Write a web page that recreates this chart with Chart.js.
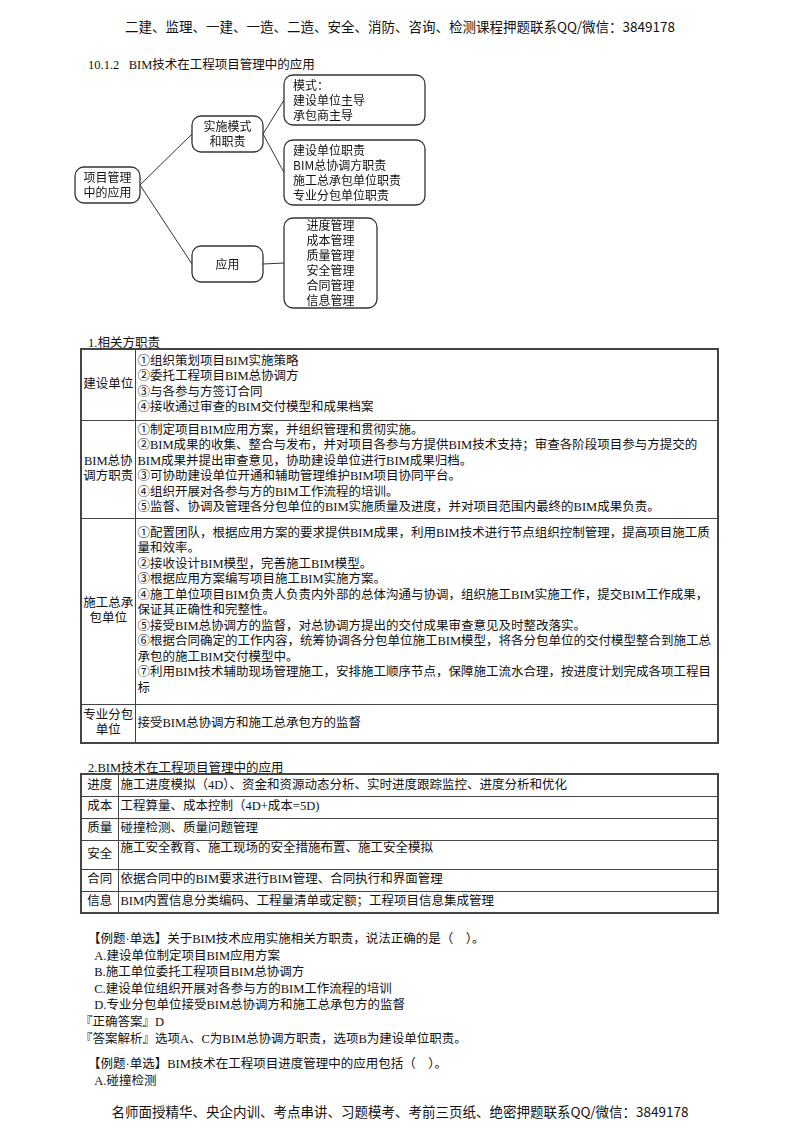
<!DOCTYPE html>
<html><head><meta charset="utf-8">
<script src="https://cdn.jsdelivr.net/npm/chart.js@4"></script>
<style>
body{margin:0;width:800px;height:1132px;background:#fff;position:relative;font-family:"Liberation Serif","Noto Sans CJK SC",serif;color:#111;font-size:12.5px}
.a{position:absolute;white-space:nowrap}
table{position:absolute;border-collapse:collapse;border:2px solid #444;table-layout:fixed}
td{border:1px solid #444;padding:0 2px;vertical-align:middle;line-height:15.5px;font-size:12.5px}
td.h{text-align:center;padding:0}
</style></head><body>
<div class="a" style="top:16px;left:0;width:800px;text-align:center;font-size:13.5px;font-family:'Noto Sans CJK SC'">二建、监理、一建、一造、二造、安全、消防、咨询、检测课程押题联系QQ/微信：3849178</div>
<div class="a" style="top:54px;left:88px;font-size:12.5px">10.1.2&nbsp;&nbsp;&nbsp;BIM技术在工程项目管理中的应用</div>
<div style="position:absolute;left:60px;top:70px;width:400px;height:250px"><canvas id="c"></canvas></div>
<div class="a" style="top:332px;left:88px">1.相关方职责</div>
<table style="left:80px;top:348px;width:639px">
<col style="width:54px"><col>
<tr style="height:71px"><td class="h">建设单位</td><td>①组织策划项目BIM实施策略<br>②委托工程项目BIM总协调方<br>③与各参与方签订合同<br>④接收通过审查的BIM交付模型和成果档案</td></tr>
<tr style="height:98px"><td class="h">BIM总协<br>调方职责</td><td>①制定项目BIM应用方案，并组织管理和贯彻实施。<br>②BIM成果的收集、整合与发布，并对项目各参与方提供BIM技术支持；审查各阶段项目参与方提交的BIM成果并提出审查意见，协助建设单位进行BIM成果归档。<br>③可协助建设单位开通和辅助管理维护BIM项目协同平台。<br>④组织开展对各参与方的BIM工作流程的培训。<br>⑤监督、协调及管理各分包单位的BIM实施质量及进度，并对项目范围内最终的BIM成果负责。</td></tr>
<tr style="height:186px"><td class="h">施工总承<br>包单位</td><td>①配置团队，根据应用方案的要求提供BIM成果，利用BIM技术进行节点组织控制管理，提高项目施工质量和效率。<br>②接收设计BIM模型，完善施工BIM模型。<br>③根据应用方案编写项目施工BIM实施方案。<br>④施工单位项目BIM负责人负责内外部的总体沟通与协调，组织施工BIM实施工作，提交BIM工作成果，保证其正确性和完整性。<br>⑤接受BIM总协调方的监督，对总协调方提出的交付成果审查意见及时整改落实。<br>⑥根据合同确定的工作内容，统筹协调各分包单位施工BIM模型，将各分包单位的交付模型整合到施工总承包的施工BIM交付模型中。<br>⑦利用BIM技术辅助现场管理施工，安排施工顺序节点，保障施工流水合理，按进度计划完成各项工程目标</td></tr>
<tr style="height:39px"><td class="h">专业分包<br>单位</td><td>接受BIM总协调方和施工总承包方的监督</td></tr>
</table>
<div class="a" style="top:757px;left:88px">2.BIM技术在工程项目管理中的应用</div>
<table style="left:80px;top:773px;width:639px">
<col style="width:37px"><col>
<tr style="height:22px"><td class="h">进度</td><td>施工进度模拟（4D）、资金和资源动态分析、实时进度跟踪监控、进度分析和优化</td></tr>
<tr style="height:22px"><td class="h">成本</td><td>工程算量、成本控制（4D+成本=5D)</td></tr>
<tr style="height:22px"><td class="h">质量</td><td>碰撞检测、质量问题管理</td></tr>
<tr style="height:29px"><td class="h">安全</td><td style="vertical-align:top">施工安全教育、施工现场的安全措施布置、施工安全模拟</td></tr>
<tr style="height:22px"><td class="h">合同</td><td>依据合同中的BIM要求进行BIM管理、合同执行和界面管理</td></tr>
<tr style="height:22px"><td class="h">信息</td><td>BIM内置信息分类编码、工程量清单或定额；工程项目信息集成管理</td></tr>
</table>
<div class="a" style="top:931px;left:88px;line-height:16.5px">【例题·单选】关于BIM技术应用实施相关方职责，说法正确的是（　）。<br>
&nbsp;&nbsp;A.建设单位制定项目BIM应用方案<br>
&nbsp;&nbsp;B.施工单位委托工程项目BIM总协调方<br>
&nbsp;&nbsp;C.建设单位组织开展对各参与方的BIM工作流程的培训<br>
&nbsp;&nbsp;D.专业分包单位接受BIM总协调方和施工总承包方的监督</div>
<div class="a" style="top:1014px;left:80px;line-height:16.5px">『正确答案』D<br>『答案解析』选项A、C为BIM总协调方职责，选项B为建设单位职责。</div>
<div class="a" style="top:1056px;left:88px;line-height:17px">【例题·单选】BIM技术在工程项目进度管理中的应用包括（　）。<br>&nbsp;&nbsp;A.碰撞检测</div>
<div class="a" style="top:1101px;left:0;width:800px;text-align:center;font-size:13.5px;font-family:'Noto Sans CJK SC'">名师面授精华、央企内训、考点串讲、习题模考、考前三页纸、绝密押题联系QQ/微信：3849178</div>
<script>
// mind map nodes (page coordinates used as data values)
const nodeLabels=[["项目管理","中的应用"],["实施模式","和职责"],["应用"],["模式：","建设单位主导","承包商主导"],["建设单位职责","BIM总协调方职责","施工总承包单位职责","专业分包单位职责"],["进度管理","成本管理","质量管理","安全管理","合同管理","信息管理"]];
const nodeX1=[75,192,192,284,284,284];
const nodeY1=[167,116,246,75,140,218];
const nodeX2=[140,263,263,425,425,377];
const nodeY2=[203,152,282,125,205,308];
const nodeAlign=["center","center","center","left","left","center"];
const edges=[[0,1],[0,2],[1,3],[1,4],[2,5]];
const pts=nodeX1.map((x,i)=>({x:(x+nodeX2[i])/2,y:(nodeY1[i]+nodeY2[i])/2}));
const plugin={id:'mm',afterDatasetsDraw(ch){
 const c=ch.ctx,sx=ch.scales.x,sy=ch.scales.y;
 const X=v=>sx.getPixelForValue(v),Y=v=>sy.getPixelForValue(v);
 c.save();c.strokeStyle='#333';c.lineWidth=1;
 edges.forEach(([a,b])=>{c.beginPath();c.moveTo(X(nodeX2[a]),Y(pts[a].y));c.lineTo(X(nodeX1[b]),Y(pts[b].y));c.stroke();});
 nodeLabels.forEach((l,i)=>{
  const x1=X(nodeX1[i]),y1=Y(nodeY1[i]),x2=X(nodeX2[i]),y2=Y(nodeY2[i]);
  c.beginPath();c.roundRect(x1,y1,x2-x1,y2-y1,9);c.fillStyle='#fff';c.fill();c.lineWidth=1.3;c.stroke();
  c.fillStyle='#111';c.font='12px "Noto Sans CJK SC"';c.textBaseline='middle';c.textAlign=nodeAlign[i];
  const lh=15,n=l.length,cy=(y1+y2)/2;
  l.forEach((t,k)=>{const ty=cy+(k-(n-1)/2)*lh;c.fillText(t,nodeAlign[i]=='left'?x1+9:(x1+x2)/2,ty);});
 });
 c.restore();}};
new Chart(document.getElementById('c'),{type:'scatter',data:{datasets:[{data:pts,pointRadius:0}]},
options:{responsive:true,maintainAspectRatio:false,animation:false,layout:{padding:0},
plugins:{legend:{display:false},tooltip:{enabled:false}},
scales:{x:{type:'linear',min:60,max:460,display:false},y:{type:'linear',min:70,max:320,reverse:true,display:false}}},plugins:[plugin]});
</script>
</body></html>
